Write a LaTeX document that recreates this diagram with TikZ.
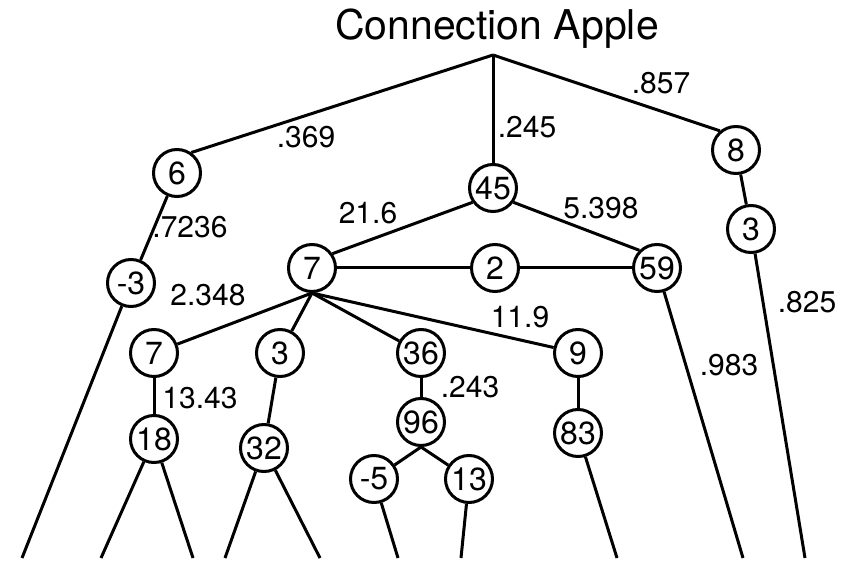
\documentclass[tikz,border=0pt]{standalone}
\usepackage{fontspec}
\setmainfont{TeX Gyre Heros}
\begin{document}
\begin{tikzpicture}[x=0.5pt,y=-0.5pt,
  line width=1.5pt,
  num/.style={circle,draw,line width=1.5pt,minimum size=23.5pt,inner sep=0pt,font=\fontsize{16}{16}\selectfont},
  wt/.style={inner sep=0pt,font=\fontsize{15}{15}\selectfont},
  ttl/.style={inner sep=0pt,anchor=base,font=\fontsize{20.5}{20.5}\selectfont}]
\useasboundingbox (0,0) rectangle (846,561);

% title and root point
\node[ttl] (title) at (497,40) {Connection Apple};
\coordinate (root) at (493,55);

% numbered nodes
\node[num] (n6)  at (177,173) {6};
\node[num] (n45) at (493,188) {45};
\node[num] (n8)  at (736,150) {8};
\node[num] (n3r) at (751,229) {3};
\node[num] (nm3) at (131,283) {-3};
\node[num] (n7)  at (312,268) {7};
\node[num] (n2)  at (495,268) {2};
\node[num] (n59) at (657,268) {59};
\node[num] (n7l) at (154,353) {7};
\node[num] (n3m) at (280,353) {3};
\node[num] (n36) at (421,353) {36};
\node[num] (n9)  at (578,353) {9};
\node[num] (n18) at (154,439) {18};
\node[num] (n32) at (264,448) {32};
\node[num] (n96) at (421,422) {96};
\node[num] (nm5) at (374,479) {-5};
\node[num] (n13) at (469,479) {13};
\node[num] (n83) at (578,433) {83};

% loose ends along the bottom
\coordinate (b1)  at (22,558);
\coordinate (b2)  at (101,558);
\coordinate (b3)  at (193,558);
\coordinate (b4)  at (225,558);
\coordinate (b5)  at (320,558);
\coordinate (b6)  at (398,558);
\coordinate (b7)  at (461,558);
\coordinate (b8)  at (617,558);
\coordinate (b9)  at (743,558);
\coordinate (b10) at (805,558);

% connections
\draw (root) -- (n6.55);
\draw (root) -- (n45.north);
\draw (root) -- (n8.130);
\draw (n6) -- (nm3);
\draw (nm3) -- (b1);
\draw (n45.215) -- (n7.35);
\draw (n45.-35) -- (n59.135);
\draw (n7) -- (n2);
\draw (n2) -- (n59);
\draw (n7.south) -- (n7l);
\draw (n7.south) -- (n3m);
\draw (n7.south) -- (n36);
\draw (n7.south) -- (n9);
\draw (n7l) -- (n18);
\draw (n18) -- (b2);
\draw (n18) -- (b3);
\draw (n3m) -- (n32);
\draw (n32) -- (b4);
\draw (n32) -- (b5);
\draw (n36) -- (n96);
\draw (n96.south) -- (nm5);
\draw (n96.south) -- (n13);
\draw (nm5) -- (b6);
\draw (n13) -- (b7);
\draw (n9) -- (n83);
\draw (n83) -- (b8);
\draw (n59) -- (b9);
\draw (n8) -- (n3r);
\draw (n3r) -- (b10);

% weights
\node[wt] (w1)  at (306,137) {.369};
\node[wt] (w2)  at (527,127) {.245};
\node[wt] (w3)  at (661,83)  {.857};
\node[wt] (w4)  at (190,227) {.7236};
\node[wt] (w5)  at (368,213) {21.6};
\node[wt] (w6)  at (601,208) {5.398};
\node[wt] (w7)  at (208,295) {2.348};
\node[wt] (w8)  at (520,317) {11.9};
\node[wt] (w9)  at (807,302) {.825};
\node[wt] (w10) at (729,365) {.983};
\node[wt] (w11) at (200,398) {13.43};
\node[wt] (w12) at (470,387) {.243};
\end{tikzpicture}
\end{document}
